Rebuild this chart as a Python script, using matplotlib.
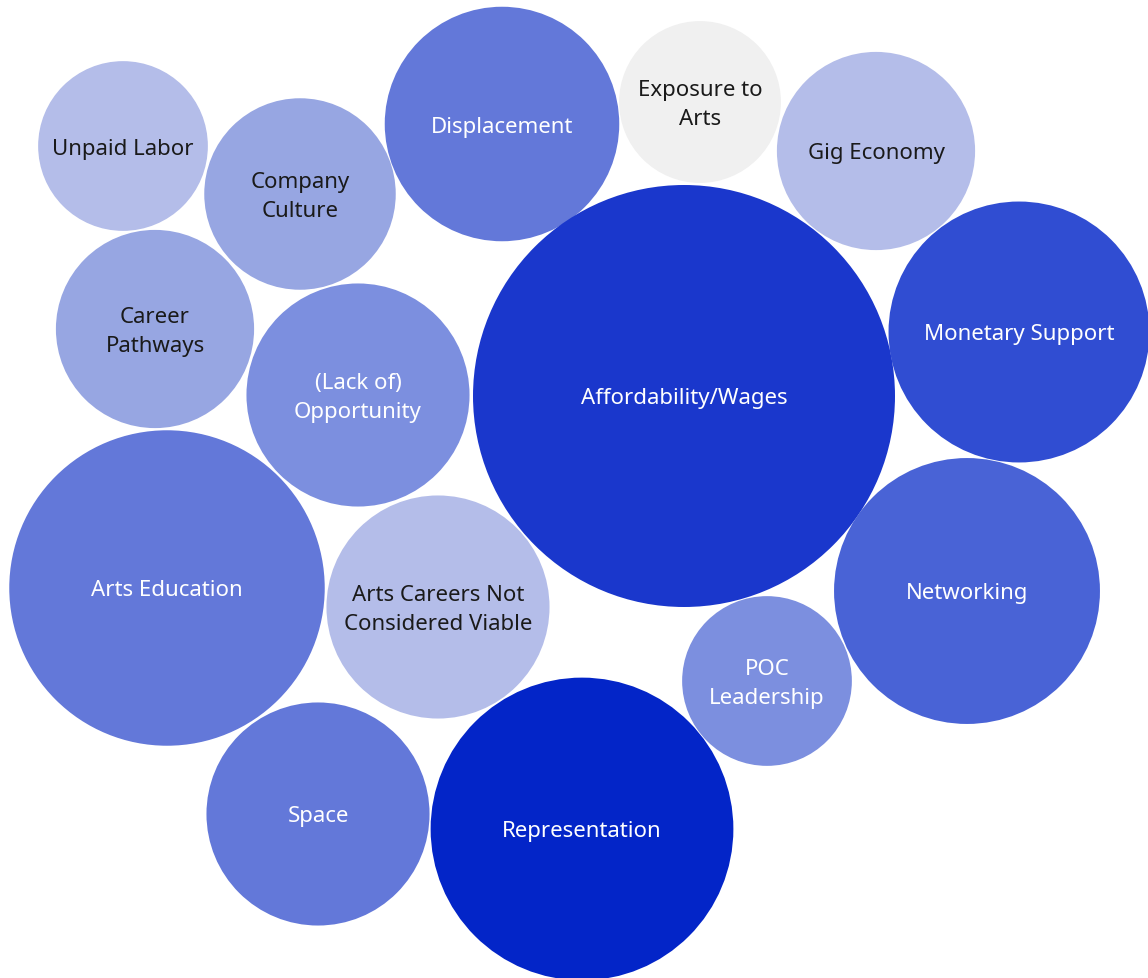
import matplotlib
matplotlib.use("Agg")
import matplotlib.pyplot as plt
from matplotlib.patches import Circle
import numpy as np

# barrier themes: mention count (bubble area) and a rating level (colour step)
themes = ["Unpaid Labor", "Company\nCulture", "Displacement", "Exposure to\nArts",
          "Gig Economy", "Affordability/Wages", "Monetary Support", "Career\nPathways",
          "(Lack of)\nOpportunity", "Arts Education", "Arts Careers Not\nConsidered Viable",
          "Networking", "POC\nLeadership", "Space", "Representation"]
mentions = [11, 14, 21, 10, 15, 68, 26, 15, 19, 38, 19, 27, 11, 19, 35]
level = [1, 2, 4, 0, 1, 7, 6, 2, 3, 4, 1, 5, 3, 4, 8]

# packed-bubble layout (centres, pixel space of the original view)
layout_x = [123, 300, 502, 700, 876, 684, 1019, 155, 358, 167, 438, 967, 767, 318, 582]
layout_y = [147, 195, 125, 103, 152, 397, 333, 330, 396, 589, 608, 592, 682, 815, 830]

palette = ["#f0f0f0", "#b4bde9", "#97a6e2", "#7c8fdf", "#6378d9",
           "#4963d6", "#304dd2", "#1a37cc", "#0325c8"]

W, H = 1148, 979
fig = plt.figure(figsize=(W / 100, H / 100), dpi=100)
ax = fig.add_axes([0, 0, 1, 1])
ax.set_xlim(0, W)
ax.set_ylim(H, 0)
ax.set_aspect("equal")
ax.axis("off")

k = 211 / np.sqrt(max(mentions))  # radius scale, area ~ mentions
for name, m, lv, x, y in zip(themes, mentions, level, layout_x, layout_y):
    ax.add_patch(Circle((x, y), k * np.sqrt(m), facecolor=palette[lv],
                        edgecolor="none"))
    ax.text(x, y + 2, name, ha="center", va="center", fontsize=16,
            family="Noto Sans", linespacing=1.5,
            color="white" if lv >= 3 else "#1a1a1a")

fig.savefig("out.png", dpi=100)
